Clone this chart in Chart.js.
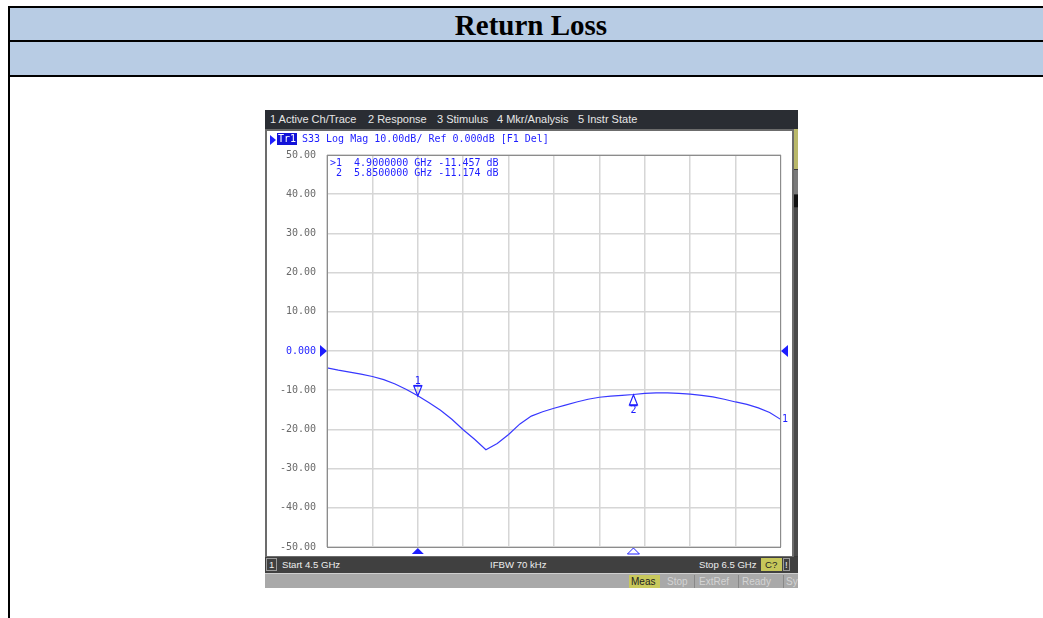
<!DOCTYPE html>
<html><head><meta charset="utf-8">
<script src="https://cdn.jsdelivr.net/npm/chart.js@4"></script>
<style>
html,body{margin:0;padding:0;width:1043px;height:618px;overflow:hidden;background:#fff;}
.a{position:absolute;white-space:pre;}
.menu{font-family:"Liberation Sans",Arial,sans-serif;font-size:11px;color:#e6e6e6;top:113px;}
.stat{font-family:"Liberation Sans",Arial,sans-serif;font-size:9.6px;color:#eeeeee;top:559px;}
.gb{font-family:"Liberation Sans",Arial,sans-serif;font-size:10px;color:#d4d4d4;top:576px;}
.mono{font-family:"DejaVu Sans Mono","Liberation Mono",monospace;font-size:10px;color:#1e1eff;}
</style></head>
<body>
<!-- document table -->
<div class="a" style="left:8px;top:6px;width:1100px;height:2px;background:#000"></div>
<div class="a" style="left:8px;top:8px;width:1100px;height:32px;background:#b8cce4"></div>
<div class="a" style="left:8px;top:40px;width:1100px;height:2px;background:#000"></div>
<div class="a" style="left:8px;top:42px;width:1100px;height:33px;background:#b8cce4"></div>
<div class="a" style="left:8px;top:75px;width:1100px;height:2px;background:#000"></div>
<div class="a" style="left:8px;top:6px;width:2px;height:620px;background:#000"></div>
<div class="a" style="left:331px;top:8px;width:400px;height:32px;line-height:34px;text-align:center;font-family:'Liberation Serif','Times New Roman',serif;font-weight:bold;font-size:29px;color:#000">Return Loss</div>

<!-- instrument screenshot -->
<div class="a" style="left:265px;top:110px;width:533px;height:478px;background:#3a3a3a"></div>
<div class="a" style="left:265px;top:110px;width:533px;height:19px;background:#2a2d33"></div>
<div class="a menu" style="left:270px">1 Active Ch/Trace</div>
<div class="a menu" style="left:368px">2 Response</div>
<div class="a menu" style="left:437px">3 Stimulus</div>
<div class="a menu" style="left:497px">4 Mkr/Analysis</div>
<div class="a menu" style="left:578px">5 Instr State</div>
<div class="a" style="left:265px;top:129px;width:529px;height:428px;background:#6c6c6c"></div>
<div class="a" style="left:267px;top:131px;width:525px;height:425px;background:#ffffff"></div>
<div class="a" style="left:794px;top:129px;width:4px;height:40px;background:#b9b86a"></div>
<div class="a" style="left:794px;top:170px;width:4px;height:24px;background:#7a7a7a"></div>
<div class="a" style="left:794px;top:195px;width:4px;height:12px;background:#111"></div>
<div class="a" style="left:794px;top:208px;width:4px;height:348px;background:#4a4a4a"></div>
<canvas id="c" class="a" width="525" height="425" style="left:267px;top:131px;width:525px;height:425px"></canvas>
<!-- trace header -->
<div class="a" style="left:270px;top:135px;width:0;height:0;border-top:5px solid transparent;border-bottom:5px solid transparent;border-left:6px solid #1e1eff"></div>
<div class="a mono" style="left:277px;top:133px;height:12px;line-height:12px;background:#1212d8;color:#fff;padding:0 1px">Tr1</div>
<div class="a mono" id="hdr" style="left:302px;top:133px;line-height:12px">S33 Log Mag 10.00dB/ Ref 0.000dB [F1 Del]</div>
<!-- status bar -->
<div class="a" style="left:265px;top:557px;width:533px;height:16px;background:#404040"></div>
<div class="a" style="left:266px;top:558px;width:11px;height:13px;border:1px solid #9a9a9a;box-sizing:border-box"></div>
<div class="a stat" style="left:269px">1</div>
<div class="a stat" style="left:282px">Start 4.5 GHz</div>
<div class="a stat" style="left:490px">IFBW 70 kHz</div>
<div class="a stat" style="left:699px">Stop 6.5 GHz</div>
<div class="a" style="left:761px;top:558px;width:21px;height:13px;background:#c6c65a"></div>
<div class="a stat" style="left:765px;color:#222">C?</div>
<div class="a" style="left:783px;top:558px;width:7px;height:13px;border:1px solid #9a9a9a;box-sizing:border-box"></div>
<div class="a stat" style="left:785px">!</div>
<div class="a" style="left:265px;top:573px;width:533px;height:15px;background:#a9a9a9;border-top:1px solid #cfcfcf;box-sizing:border-box"></div>
<div class="a" style="left:629px;top:575px;width:31px;height:13px;background:#c8c85c"></div>
<div class="a gb" style="left:631px;color:#222">Meas</div>
<div class="a gb" style="left:667px">Stop</div>
<div class="a" style="left:694px;top:575px;width:1px;height:13px;background:#888"></div>
<div class="a gb" style="left:699px">ExtRef</div>
<div class="a" style="left:738px;top:575px;width:1px;height:13px;background:#888"></div>
<div class="a gb" style="left:742px">Ready</div>
<div class="a" style="left:783px;top:575px;width:1px;height:13px;background:#888"></div>
<div class="a gb" style="left:786px;width:12px;overflow:hidden">Sys</div>

<script>
// ---- data ----
const freqs = [4.50,4.55,4.60,4.65,4.70,4.75,4.80,4.85,4.90,4.95,5.00,5.05,5.10,5.15,5.20,5.25,5.30,5.35,5.40,5.45,5.50,5.55,5.60,5.65,5.70,5.75,5.80,5.85,5.90,5.95,6.00,6.05,6.10,6.15,6.20,6.25,6.30,6.35,6.40,6.45,6.50];
const s33 = [-4.3,-4.9,-5.4,-5.9,-6.5,-7.3,-8.4,-9.8,-11.4,-13.2,-15.1,-17.4,-20.1,-22.5,-25.2,-23.6,-21.3,-18.6,-16.6,-15.5,-14.6,-13.8,-13.0,-12.3,-11.8,-11.5,-11.3,-11.1,-10.8,-10.7,-10.7,-10.8,-11.0,-11.3,-11.7,-12.3,-13.0,-13.6,-14.5,-15.7,-17.5];
const markerFreqs = [4.9, 5.85];
const markerVals = [-11.457, -11.174];
const yTicks = [50,40,30,20,10,0,-10,-20,-30,-40,-50];
const yTickLabels = ['50.00','40.00','30.00','20.00','10.00','0.000','-10.00','-20.00','-30.00','-40.00','-50.00'];
const xStart = 4.5, xStop = 6.5, xStep = 0.2;
const refLevel = 0;

const BLUE = '#1e1eff';
const MONO = '10px "DejaVu Sans Mono","Liberation Mono",monospace';

const overlay = {
  id:'overlay',
  afterDatasetsDraw(chart){
    const {ctx, chartArea:a, scales:{x,y}} = chart;
    ctx.save();
    ctx.strokeStyle = '#8c8c8c'; ctx.lineWidth = 1;
    ctx.strokeRect(a.left+0.5, a.top+0.5, a.right-a.left-1, a.bottom-a.top);
    ctx.fillStyle = BLUE; ctx.strokeStyle = BLUE;
    const ry = y.getPixelForValue(refLevel);
    ctx.beginPath(); ctx.moveTo(a.left-7, ry-6); ctx.lineTo(a.left, ry); ctx.lineTo(a.left-7, ry+6); ctx.closePath(); ctx.fill();
    ctx.beginPath(); ctx.moveTo(a.right+7, ry-6); ctx.lineTo(a.right, ry); ctx.lineTo(a.right+7, ry+6); ctx.closePath(); ctx.fill();
    ctx.font = MONO; ctx.textBaseline = 'middle';
    markerFreqs.forEach((f,i)=>{
      const px = x.getPixelForValue(f), py = y.getPixelForValue(markerVals[i]);
      ctx.lineWidth = 1.2;
      ctx.textAlign = 'center';
      if(i===0){
        ctx.beginPath(); ctx.moveTo(px-4, py-10); ctx.lineTo(px+4, py-10); ctx.lineTo(px, py); ctx.closePath(); ctx.stroke();
        ctx.fillRect(px-4, py-11, 8, 1.5);
        ctx.fillText(String(i+1), px, py-15);
      } else {
        ctx.beginPath(); ctx.moveTo(px-4, py+10); ctx.lineTo(px+4, py+10); ctx.lineTo(px, py); ctx.closePath(); ctx.stroke();
        ctx.fillRect(px-4, py+10, 8, 1.5);
        ctx.fillText(String(i+1), px, py+16);
      }
      ctx.beginPath(); ctx.moveTo(px-6, a.bottom+7); ctx.lineTo(px, a.bottom+1); ctx.lineTo(px+6, a.bottom+7); ctx.closePath();
      if(i===0) ctx.fill(); else { ctx.lineWidth = 1; ctx.stroke(); }
      ctx.textAlign = 'left';
      const line = (i===0?'>':' ') + (i+1) + '  ' + f.toFixed(7) + ' GHz ' + markerVals[i].toFixed(3) + ' dB';
      ctx.fillText(line, a.left+3, a.top+8 + i*10);
    });
    const ey = y.getPixelForValue(s33[s33.length-1]);
    ctx.textAlign = 'left';
    ctx.fillText('1', a.right+1, ey);
    ctx.restore();
  }
};

new Chart(document.getElementById('c'), {
  type:'line',
  data:{ datasets:[{
    data: freqs.map((f,i)=>({x:f, y:s33[i]})),
    borderColor:'#3838ff', borderWidth:1.2, pointRadius:0, tension:0, fill:false
  }]},
  options:{
    responsive:false, animation:false, devicePixelRatio:1,
    layout:{padding:{left:0, top:24, right:11, bottom:9}},
    plugins:{legend:{display:false}, tooltip:{enabled:false}, title:{display:false}},
    scales:{
      x:{ type:'linear', min:xStart, max:xStop,
          ticks:{display:false, stepSize:xStep},
          grid:{color:'#d6d6d6', lineWidth:1.5, drawTicks:false},
          border:{display:false},
          afterFit(s){ s.height = 0; s.paddingTop = 0; s.paddingBottom = 0; s.paddingLeft = 0; s.paddingRight = 0; } },
      y:{ type:'linear', min:-50, max:50,
          afterBuildTicks(s){ s.ticks = yTicks.map(v=>({value:v})); },
          ticks:{ padding:11, font:{family:'"DejaVu Sans Mono","Liberation Mono",monospace', size:10},
                  color:(c)=> c.tick && c.tick.value===0 ? BLUE : '#6a6a6a',
                  callback:(v)=> yTickLabels[yTicks.indexOf(v)] },
          grid:{color:'#d6d6d6', lineWidth:1.5, drawTicks:false},
          border:{display:false},
          afterFit(s){ s.width = 60; s.paddingTop = 0; s.paddingBottom = 0; } }
    }
  },
  plugins:[overlay]
});
</script>
</body></html>
